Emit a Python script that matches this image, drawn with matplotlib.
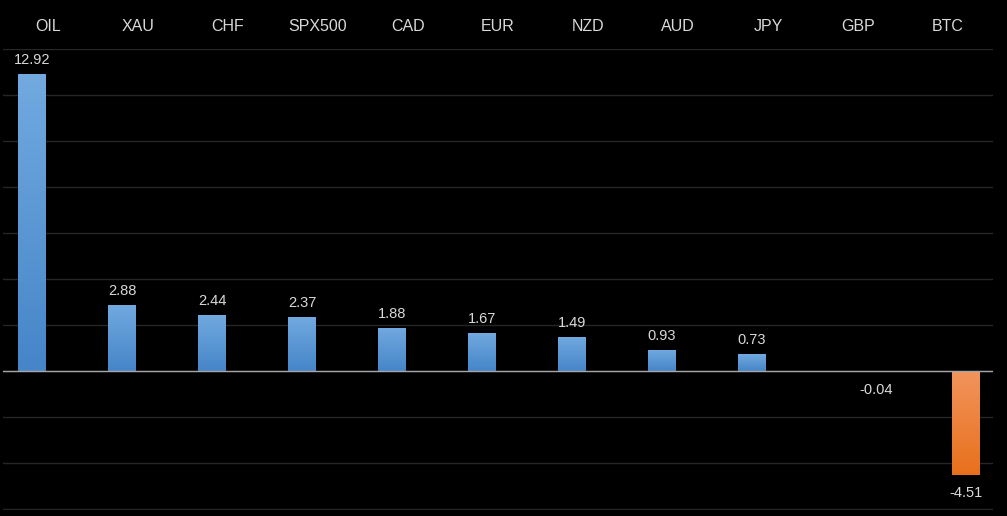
import numpy as np
import matplotlib
matplotlib.use("Agg")
import matplotlib.pyplot as plt
from matplotlib.colors import LinearSegmentedColormap

# Дані з графіка
symbols = ['OIL', 'XAU', 'CHF', 'SPX500', 'CAD', 'EUR', 'NZD', 'AUD', 'JPY', 'GBP', 'BTC']
changes = [12.92, 2.88, 2.44, 2.37, 1.88, 1.67, 1.49, 0.93, 0.73, -0.04, -4.51]

plt.rcParams['font.family'] = ['Liberation Sans', 'DejaVu Sans']
text_color = '#d9d9d9'

blue_cmap = LinearSegmentedColormap.from_list('blue', ['#4585c8', '#72aae0'])
orange_cmap = LinearSegmentedColormap.from_list('orange', ['#e8701c', '#f2945c'])

fig = plt.figure(figsize=(10.07, 5.16), dpi=100, facecolor='black')
ax = fig.add_axes([3 / 1007, 6 / 516, 990 / 1007, 461 / 516])
ax.set_facecolor('black')

x = np.arange(len(symbols))
width = 0.311
grad = np.linspace(0, 1, 256).reshape(-1, 1)

for i, v in zip(x, changes):
    # позитивні і негативні значення зміщені в категорії (як дві серії в Excel)
    pos = i - 0.178 if v >= 0 else i + 0.2
    cmap = blue_cmap if v >= 0 else orange_cmap
    bar = ax.bar(pos, v, width=width, color=cmap(0.5), edgecolor='none', zorder=3)[0]
    lo, hi = min(0, v), max(0, v)
    img = ax.imshow(grad, cmap=cmap, origin='lower', aspect='auto',
                    extent=[pos - width / 2, pos + width / 2, lo, hi], zorder=3)
    img.set_clip_path(bar)
    off = 5 if v >= 0 else -8
    ax.annotate(f'{v:.2f}', (pos, v), xytext=(0, off), textcoords='offset points',
                ha='center', va='bottom' if v >= 0 else 'top',
                color=text_color, fontsize=10.5)

ax.set_xlim(-0.5, len(symbols) - 0.5)
ax.set_ylim(-6.04, 14)
ax.set_yticks(np.arange(-6, 15, 2))
ax.yaxis.grid(True, color='#262626', linewidth=1, zorder=0)
ax.axhline(0, color='#a6a6a6', linewidth=1, zorder=4)

ax.xaxis.tick_top()
ax.set_xticks(x)
ax.set_xticklabels(symbols, color=text_color, fontsize=11.5)
ax.tick_params(axis='x', length=0, pad=11)
ax.tick_params(axis='y', length=0, labelleft=False)
for s in ax.spines.values():
    s.set_visible(False)

fig.savefig('out.png', dpi=100, facecolor='black')
